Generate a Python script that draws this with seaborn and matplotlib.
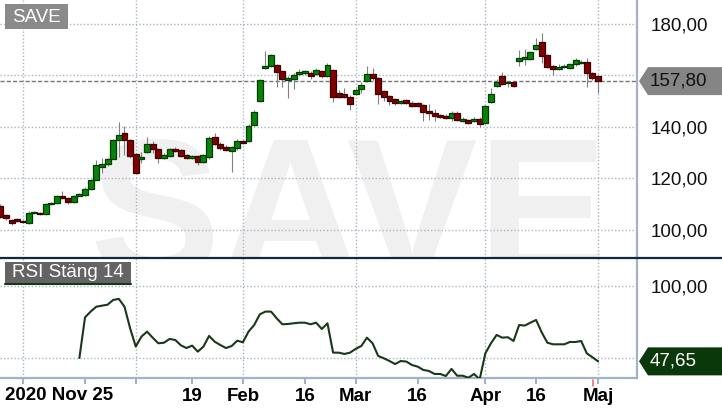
import matplotlib
matplotlib.use("Agg")
import matplotlib.pyplot as plt
import matplotlib.transforms as mtransforms
from matplotlib.patches import Polygon, Rectangle
from matplotlib.lines import Line2D
import seaborn as sns
import pandas as pd
import numpy as np

# daily candles, trading day index 0 = 2020-11-25 ... 106 = 2021-05-03
opens = [109.3, 105.7, 103.9, 104.2, 103.5, 102.8, 106.5, 106.6, 106.1, 110.0,
         110.4, 113.1, 112.3, 111.0, 113.3, 113.5, 115.8, 119.5, 124.3, 125.5,
         127.7, 134.8, 137.5, 134.8, 129.4, 127.7, 130.2, 133.3, 131.3, 128.0,
         128.9, 131.3, 131.0, 129.1, 127.9, 128.7, 126.5, 128.2, 136.0, 133.4,
         132.4, 130.8, 131.7, 134.6, 134.4, 140.7, 150.2, 163.0, 163.8, 164.1,
         161.7, 158.2, 158.8, 160.6, 160.8, 161.1, 160.7, 161.7, 159.9, 162.1,
         153.1, 152.8, 151.8, 152.9, 154.9, 157.9, 160.5, 158.9, 154.0, 152.0,
         150.9, 149.2, 150.5, 149.4, 149.2, 148.4, 146.2, 145.6, 144.7, 144.4,
         143.4, 145.6, 142.5, 142.7, 142.2, 143.2, 141.7, 149.8, 156.0, 159.8,
         157.0, 157.4, 165.8, 166.5, 166.5, 170.2, 172.9, 168.0, 163.7, 162.6,
         163.4, 163.0, 164.3, 164.9, 165.2, 160.9, 159.8]
highs = [110.0, 106.2, 104.3, 104.8, 104.0, 107.5, 107.4, 107.0, 110.4, 111.0,
         113.6, 115.2, 112.8, 113.6, 114.5, 116.5, 119.8, 127.2, 127.8, 128.0,
         135.5, 142.0, 140.4, 135.5, 130.0, 130.4, 136.2, 134.5, 132.0, 129.8,
         131.8, 132.4, 131.5, 129.6, 129.0, 129.2, 129.5, 136.3, 137.6, 134.0,
         132.9, 132.6, 135.4, 135.0, 141.0, 146.6, 158.8, 169.5, 168.5, 164.6,
         162.2, 159.6, 160.8, 162.5, 162.2, 161.6, 162.8, 162.2, 165.0, 162.6,
         154.5, 155.0, 152.3, 155.0, 157.5, 163.7, 163.0, 159.4, 154.5, 152.5,
         151.4, 150.6, 151.0, 149.9, 149.7, 149.0, 148.8, 146.8, 145.2, 145.0,
         146.0, 146.1, 144.0, 143.2, 143.8, 143.7, 148.6, 155.0, 158.8, 161.5,
         158.0, 157.9, 170.0, 170.2, 169.4, 174.5, 176.6, 168.5, 164.2, 164.3,
         164.6, 165.0, 166.8, 165.9, 166.6, 161.4, 160.3]
lows = [104.8, 104.0, 102.0, 103.0, 102.6, 102.2, 106.0, 105.8, 105.8, 109.6,
        110.0, 112.0, 110.2, 110.6, 113.0, 113.2, 115.5, 119.2, 122.0, 125.0,
        127.4, 128.5, 129.1, 128.0, 122.0, 125.9, 129.8, 130.0, 125.9, 127.5,
        128.5, 130.3, 128.2, 127.5, 127.4, 125.2, 126.0, 127.6, 132.8, 131.2,
        130.6, 122.4, 131.2, 133.4, 134.0, 140.3, 149.8, 162.5, 163.3, 155.5,
        155.5, 151.4, 154.8, 160.1, 160.3, 158.8, 160.3, 159.0, 159.5, 149.5,
        151.3, 151.3, 146.5, 152.4, 153.2, 157.4, 158.4, 149.0, 150.0, 148.5,
        148.6, 148.8, 149.0, 147.8, 147.8, 142.5, 142.8, 142.5, 143.3, 143.0,
        142.5, 142.2, 142.0, 141.3, 141.8, 139.8, 141.3, 149.4, 155.6, 156.2,
        155.6, 155.6, 163.8, 164.0, 166.0, 169.8, 165.0, 162.9, 160.2, 162.2,
        162.8, 162.6, 163.5, 164.3, 155.7, 158.4, 153.1]
closes = [105.0, 104.5, 102.6, 103.4, 103.0, 106.5, 107.0, 106.1, 110.0, 110.4,
          113.1, 112.3, 110.8, 113.1, 114.0, 116.0, 119.3, 125.1, 125.6, 127.5,
          134.8, 136.9, 134.8, 128.9, 122.3, 128.5, 133.3, 131.3, 127.8, 129.1,
          131.3, 130.7, 128.9, 127.9, 128.7, 126.5, 129.1, 135.6, 133.3, 131.7,
          131.0, 132.1, 134.6, 133.9, 140.4, 145.8, 158.3, 163.8, 168.0, 161.5,
          158.5, 159.1, 160.2, 161.2, 161.6, 159.7, 162.1, 159.9, 164.1, 151.8,
          151.8, 151.8, 148.8, 154.4, 156.3, 160.5, 158.9, 152.7, 151.8, 150.2,
          149.2, 150.1, 149.4, 148.2, 148.2, 145.9, 145.6, 144.4, 143.8, 143.6,
          145.6, 142.6, 143.2, 141.7, 143.2, 141.0, 148.2, 152.8, 157.6, 156.6,
          157.6, 156.0, 166.7, 167.2, 169.0, 171.8, 167.7, 163.4, 162.4, 163.4,
          163.6, 164.5, 166.0, 165.4, 160.9, 158.9, 157.8]

# RSI (close, 14) from day 14 on
rsi_first_day = 14
rsi_values = [50.0, 78.2, 82.2, 85.6, 86.3, 87.0, 90.3, 91.0, 85.6, 70.6,
              57.9, 64.8, 68.3, 64.1, 60.2, 60.6, 63.2, 62.5, 58.8, 56.9,
              58.6, 54.4, 57.9, 65.3, 61.3, 59.0, 56.9, 58.3, 62.0, 60.9,
              68.3, 72.9, 80.3, 82.2, 82.2, 77.5, 73.4, 73.6, 74.1, 74.5,
              74.5, 73.4, 74.5, 70.1, 74.1, 53.7, 53.7, 52.8, 53.7, 56.3,
              58.3, 64.1, 60.2, 51.4, 49.8, 47.9, 45.8, 47.9, 47.5, 45.1,
              44.0, 41.7, 41.0, 38.9, 38.9, 37.5, 42.4, 37.7, 37.7, 36.3,
              38.9, 35.2, 53.2, 60.2, 66.0, 64.1, 64.4, 61.8, 72.9, 72.5,
              74.5, 76.4, 67.8, 60.6, 59.5, 59.5, 59.5, 61.1, 61.1, 61.8,
              53.2, 50.5, 47.65]

tick_days = [4, 15, 24, 34, 43, 54, 63, 74, 86, 95, 106]
tick_labels = ["", "", "", "19", "Feb", "16", "Mar", "16", "Apr", "16", "Maj"]
month_days = [4, 24, 43, 63, 86, 106]
price_ticks = [100, 120, 140, 160, 180]
price_tick_labels = ["100,00", "120,00", "140,00", "", "180,00"]
rsi_ticks = [50, 100]
rsi_tick_labels = ["", "100,00"]
last_close = 157.80
last_rsi = 47.65

W, H = 722, 411
sns.set_theme(style="white")
plt.rcParams["font.family"] = ["Liberation Sans", "DejaVu Sans"]

spine_col = "#a3b3c6"
grid_col = "#a7b4c1"
dot = (0, (1, 1.5))

df = pd.DataFrame({"o": opens, "h": highs, "l": lows, "c": closes})
df["day"] = np.arange(len(df))
df["up"] = df["c"] >= df["o"]

fig = plt.figure(figsize=(W / 100, H / 100), dpi=100)
ax = fig.add_axes([0, 1 - 258 / H, 637 / W, 258 / H])
ax2 = fig.add_axes([0, 1 - 378.3 / H, 637 / W, 120.3 / H], sharex=ax)

# watermark, cut off by the panel edge like in the source
ax.text(0.547, -0.07, "SAVE", transform=ax.transAxes, ha="center", va="baseline",
        fontsize=141, fontweight="bold", color="#f0f0f0", zorder=0.1, clip_on=True)

for d in month_days:
    ax.axvline(d, color=grid_col, ls=dot, lw=1, zorder=0.5)
    ax2.axvline(d, color=grid_col, ls=dot, lw=1, zorder=0.5)
for p in price_ticks:
    ax.axhline(p, color=grid_col, ls=dot, lw=1, zorder=0.5)
for r in rsi_ticks:
    ax2.axhline(r, color=grid_col, ls=dot, lw=1, zorder=0.5)

ax.axhline(last_close, color="#777777", ls=(0, (3, 1.5)), lw=1, zorder=1)

# candles
ax.vlines(df["day"], df["l"], df["h"], color="#808080", lw=0.8, zorder=2)
body_lo = df[["o", "c"]].min(axis=1)
body_h = (df["c"] - df["o"]).abs().clip(lower=0.35)
ax.bar(df["day"], body_h, bottom=body_lo, width=1.05,
       color=np.where(df["up"], "#0a820a", "#800000"),
       edgecolor=np.where(df["up"], "#003d00", "#3d0000"), linewidth=0.9, zorder=3)

ax.set_xlim(-0.08, 112.9)
ax.set_ylim(89.1, 189.3)
ax.yaxis.tick_right()
ax.set_yticks(price_ticks)
ax.set_yticklabels(price_tick_labels)
ax.tick_params(axis="y", length=0, pad=9.5, labelsize=13.5, labelcolor="#111111")
ax.tick_params(axis="x", bottom=False, labelbottom=False)
for s in ["left", "top", "bottom"]:
    ax.spines[s].set_visible(False)
ax.spines["right"].set_color(spine_col)
ax.spines["right"].set_linewidth(1.6)

# RSI
rsi_days = np.arange(rsi_first_day, rsi_first_day + len(rsi_values))
sns.lineplot(x=rsi_days, y=rsi_values, ax=ax2, color="#183818", lw=1.5, zorder=3)
ax2.set_ylim(35.9, 119.4)
ax2.yaxis.tick_right()
ax2.set_yticks(rsi_ticks)
ax2.set_yticklabels(rsi_tick_labels)
ax2.tick_params(axis="y", length=0, pad=9.5, labelsize=13.5, labelcolor="#111111")
ax2.set_xticks(tick_days)
ax2.set_xticklabels(tick_labels, fontweight="bold")
ax2.tick_params(axis="x", length=4, width=1.5, color=spine_col, direction="out",
                labelsize=13.5, pad=3, labelcolor="#000000", bottom=True)
for s in ["left", "top"]:
    ax2.spines[s].set_visible(False)
for s in ["right", "bottom"]:
    ax2.spines[s].set_color(spine_col)
    ax2.spines[s].set_linewidth(1.6)
ax2.set_xlabel("")
ax2.set_ylabel("")

# today marker under the axis
tr = mtransforms.blended_transform_factory(ax2.transData, ax2.transAxes)
ax2.plot([df["day"].iloc[-1] - 0.9] * 2, [-0.015, -0.06], transform=tr,
         color="#ff6b6b", lw=1.2, clip_on=False)

# panel separator
fig.add_artist(Line2D([0, 1], [1 - 257.6 / H] * 2, transform=fig.transFigure,
                      color="#0e2b3d", lw=1.6))


def fx(px):
    return px / W


def fy(py):
    return 1 - py / H


# last value tags
def value_tag(axis, value, half, face, txt, txtcol):
    t = mtransforms.blended_transform_factory(fig.transFigure, axis.transData)
    pts = [(fx(639), value), (fx(648), value + half), (1.0, value + half),
           (1.0, value - half), (fx(648), value - half)]
    axis.add_patch(Polygon(pts, closed=True, transform=t, facecolor=face,
                           edgecolor="none", clip_on=False, zorder=5))
    axis.text(fx(650), value, txt, transform=t, ha="left", va="center",
              fontsize=13.5, color=txtcol, zorder=6, clip_on=False)


value_tag(ax, last_close, 14 / 2.575, "#858585", f"{last_close:.2f}".replace(".", ","), "#111111")
value_tag(ax2, last_rsi, 14 / 1.44, "#0b380b", f"{last_rsi:.2f}".replace(".", ","), "#ffffff")

# name labels
fig.add_artist(Rectangle((fx(5), fy(29.5)), fx(63), 25.5 / H, transform=fig.transFigure,
                         facecolor="#8a8a8a", edgecolor="none"))
fig.text(fx(36.5), fy(17), "SAVE", ha="center", va="center", fontsize=13.5, color="#ffffff")
fig.add_artist(Rectangle((fx(5), fy(285)), fx(126), 23.5 / H, transform=fig.transFigure,
                         facecolor="#646464", edgecolor="none"))
fig.add_artist(Line2D([fx(5), fx(131)], [fy(284.3)] * 2, transform=fig.transFigure,
                      color="#183818", lw=1.5))
fig.text(fx(68), fy(272.5), "RSI Stäng 14", ha="center", va="center", fontsize=13.5,
         color="#ffffff")

fig.text(fx(5), fy(395), "2020 Nov 25", ha="left", va="center", fontsize=13.5,
         fontweight="bold", color="#000000")

fig.savefig("out.png", dpi=100)
